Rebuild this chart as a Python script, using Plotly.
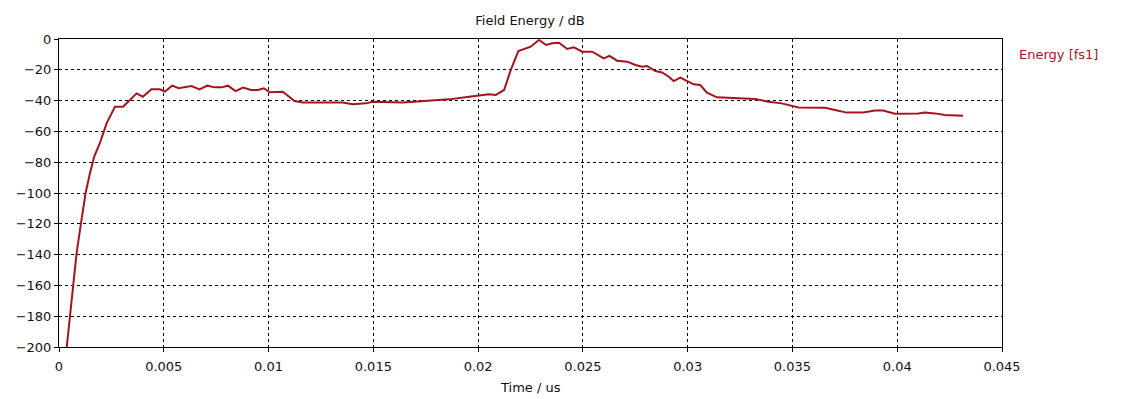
import plotly.graph_objects as go

time_us = [0.00037, 0.00052, 0.00068, 0.00084, 0.00105, 0.00127, 0.00148, 0.00168, 0.00195,
           0.00227, 0.00267, 0.00306, 0.0037, 0.0040, 0.00441, 0.00481, 0.00505, 0.0054,
           0.00571, 0.00632, 0.00671, 0.00708, 0.00743, 0.00776, 0.00806, 0.00843, 0.00878,
           0.00917, 0.00949, 0.00978, 0.01005, 0.01068, 0.01124, 0.01163, 0.01354, 0.01401,
           0.01465, 0.01497, 0.0164, 0.01767, 0.01862, 0.01957, 0.02052, 0.02084, 0.02124,
           0.02156, 0.02192, 0.02251, 0.0229, 0.02325, 0.02354, 0.02386, 0.02425, 0.02457,
           0.02497, 0.02544, 0.026, 0.02627, 0.02663, 0.02711, 0.02751, 0.02783, 0.02806,
           0.02846, 0.02878, 0.0291, 0.02933, 0.02965, 0.03005, 0.03029, 0.0306, 0.03092,
           0.0314, 0.03211, 0.03322, 0.03386, 0.03449, 0.03529, 0.03656, 0.03703, 0.03759,
           0.03838, 0.03894, 0.03933, 0.03989, 0.041, 0.04132, 0.0418, 0.04227, 0.04314]
energy_db = [-200, -179, -158.7, -139, -119.5, -100, -87, -76.4, -67.7,
             -54.8, -44, -44, -35.3, -37.5, -32.7, -32.7, -34.2, -30.3,
             -32, -30.5, -32.7, -30.3, -31.4, -31.4, -30.3, -33.8, -31.6,
             -33.1, -33.1, -32, -34.6, -34.2, -40.3, -41.3, -41.3, -42.4,
             -41.8, -40.7, -41.3, -40.3, -39.2, -37.5, -35.9, -36.4, -33.1,
             -20.1, -7.8, -5, -0.65, -3.9, -2.8, -2.4, -6.5, -5.4,
             -8.2, -8.2, -12.6, -11, -14.1, -14.7, -16.9, -18, -17.5,
             -20.8, -21.7, -24.5, -27.3, -25.1, -28.1, -29.4, -29.9, -34.8,
             -37.9, -38.5, -39, -40.7, -41.8, -44.4, -44.6, -46.1, -47.8,
             -47.8, -46.5, -46.5, -48.5, -48.3, -47.8, -48.3, -49.4, -49.8]

x_ticks = [0, 0.005, 0.01, 0.015, 0.02, 0.025, 0.03, 0.035, 0.04, 0.045]
x_tick_text = ["0", "0.005", "0.01", "0.015", "0.02", "0.025", "0.03", "0.035", "0.04", "0.045"]
y_ticks = [0, -20, -40, -60, -80, -100, -120, -140, -160, -180, -200]

line_color = "#a3141f"
font_family = "DejaVu Sans"
text_color = "#111111"

fig = go.Figure()
fig.add_trace(go.Scatter(x=time_us, y=energy_db, mode="lines",
                         line=dict(color=line_color, width=2), name="Energy [fs1]",
                         showlegend=False))

axis_common = dict(showline=True, linecolor="black", linewidth=1, mirror=True,
                   showgrid=True, gridcolor="black", gridwidth=1, griddash="3px,3px",
                   zeroline=False, ticks="outside", ticklen=4, tickcolor="black",
                   automargin=False,
                   tickfont=dict(family=font_family, size=13, color=text_color))

fig.update_xaxes(range=[0, 0.045], tickvals=x_ticks, ticktext=x_tick_text,
                 ticklabelstandoff=3, **axis_common)
fig.update_yaxes(range=[-200, 0], tickvals=y_ticks, **axis_common)

fig.add_annotation(text="Time / us", xref="paper", yref="paper", x=0.5, y=-0.13,
                   xanchor="center", yanchor="middle", showarrow=False,
                   font=dict(family=font_family, size=13, color=text_color))
fig.add_annotation(text="Energy [fs1]", xref="paper", yref="paper", x=1.016, y=0.951,
                   xanchor="left", yanchor="middle", showarrow=False,
                   font=dict(family=font_family, size=13, color=line_color))

fig.update_layout(
    width=1113, height=391,
    margin=dict(l=51, r=119, t=31, b=52),
    paper_bgcolor="white", plot_bgcolor="white",
    title=dict(text="Field Energy / dB", x=0.469, xanchor="center", y=1 - 12 / 391, yanchor="middle",
               font=dict(family=font_family, size=13, color=text_color)),
    showlegend=False,
)

fig.write_html("out.html")
